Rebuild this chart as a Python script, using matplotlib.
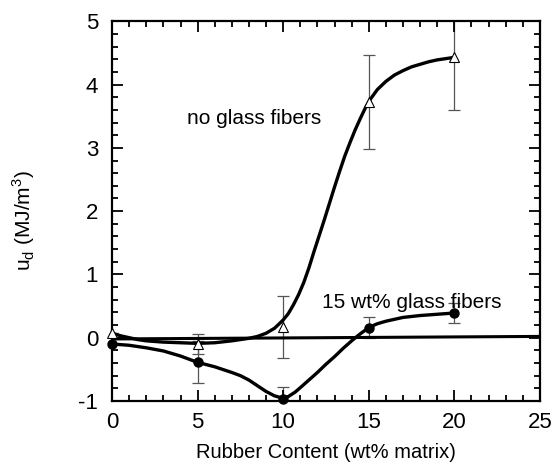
#!/usr/bin/env python3
import matplotlib as mpl
import matplotlib.pyplot as plt
from matplotlib.ticker import MultipleLocator

plt.rcParams['font.family'] = ['Liberation Sans', 'DejaVu Sans']
plt.rcParams['font.size'] = 13
plt.rcParams['mathtext.fontset'] = 'custom'
plt.rcParams['mathtext.rm'] = 'Liberation Sans'
plt.rcParams['axes.unicode_minus'] = False

# measured points (rubber content in wt% of matrix, u_d in MJ/m^3)
rubber = [0, 5, 10, 15, 20]
ud_neat = [0.07, -0.10, 0.17, 3.72, 4.43]
err_neat = [0.0, 0.16, 0.49, 0.74, 0.83]
ud_glass = [-0.10, -0.39, -0.97, 0.16, 0.39]
err_glass = [0.0, 0.33, 0.19, 0.17, 0.16]

# smoothed trend lines through each data set
fit_neat_x = [0, 0.5, 1, 1.5, 2, 3, 4, 5, 6, 7, 7.5, 8, 8.5, 9, 9.5, 10,
              10.3, 10.6, 10.9, 11.2, 11.5, 11.8, 12.1, 12.4, 12.7, 13.0,
              13.3, 13.6, 13.9, 14.2, 14.5, 14.8, 15.1, 15.5, 16.0, 16.5,
              17.0, 17.5, 18.0, 18.5, 19.0, 19.5, 20.0]
fit_neat_y = [0.07, 0.03, 0.0, -0.03, -0.05, -0.07, -0.08, -0.09, -0.08,
              -0.05, -0.03, -0.01, 0.02, 0.07, 0.15, 0.28, 0.38, 0.52, 0.68,
              0.87, 1.10, 1.36, 1.61, 1.86, 2.12, 2.38, 2.63, 2.87, 3.08,
              3.28, 3.46, 3.63, 3.77, 3.92, 4.05, 4.15, 4.22, 4.28, 4.32,
              4.36, 4.39, 4.41, 4.43]
fit_glass_x = [0, 1, 2, 3, 4, 5, 6, 7, 7.5, 8, 8.5, 9, 9.5, 9.9, 10.3,
               10.7, 11.0, 11.5, 12.0, 12.5, 13.0, 13.5, 14.0, 14.5, 15.0,
               15.5, 16.0, 16.5, 17.0, 18.0, 19.0, 20.0]
fit_glass_y = [-0.10, -0.12, -0.16, -0.21, -0.29, -0.39, -0.46, -0.55,
               -0.60, -0.67, -0.76, -0.85, -0.92, -0.95, -0.93, -0.86,
               -0.79, -0.67, -0.55, -0.42, -0.30, -0.17, -0.05, 0.06, 0.16,
               0.22, 0.26, 0.29, 0.32, 0.35, 0.37, 0.39]

# reference line near zero
base_x = [0, 25]
base_y = [-0.02, 0.02]


def graph_ud(path):
    fig = plt.figure(figsize=(5.52, 4.63), dpi=100)
    ax = fig.add_axes([0.203, 0.134, 0.775, 0.820])

    ax.plot(base_x, base_y, color="black", linewidth=2.2, zorder=2)
    ax.plot(fit_neat_x, fit_neat_y, color="black", linewidth=2.4,
            solid_capstyle="round", solid_joinstyle="round", zorder=3)
    ax.plot(fit_glass_x, fit_glass_y, color="black", linewidth=2.4,
            solid_capstyle="round", solid_joinstyle="round", zorder=3)

    ax.errorbar(rubber, ud_neat, yerr=err_neat, fmt="none", ecolor="#555555",
                elinewidth=0.9, capsize=4, capthick=0.9, zorder=1)
    ax.errorbar(rubber, ud_glass, yerr=err_glass, fmt="none", ecolor="#555555",
                elinewidth=0.9, capsize=4, capthick=0.9, zorder=1)

    ax.plot(rubber, ud_neat, linestyle="none", marker="^", markersize=6.5,
            markerfacecolor="white", markeredgecolor="black",
            markeredgewidth=0.8, clip_on=False, zorder=4)
    ax.plot(rubber, ud_glass, linestyle="none", marker="o", markersize=6.5,
            color="black", clip_on=False, zorder=4)

    ax.text(4.4, 3.46, "no glass fibers", fontsize=15, va="center", ha="left")
    ax.text(12.25, 0.55, "15 wt% glass fibers", fontsize=15, va="center",
            ha="left")

    ax.set_xlim(0, 25)
    ax.set_ylim(-1, 5)
    ax.xaxis.set_major_locator(MultipleLocator(5))
    ax.xaxis.set_minor_locator(MultipleLocator(1))
    ax.yaxis.set_major_locator(MultipleLocator(1))
    ax.yaxis.set_minor_locator(MultipleLocator(0.2))
    ax.tick_params(which="both", direction="in", top=True, right=True,
                   width=1.3, labelsize=16)
    ax.tick_params(which="major", length=8)
    ax.tick_params(axis="x", which="major", pad=8)
    ax.tick_params(axis="y", which="major", pad=10)
    ax.tick_params(which="minor", length=4.5)
    for spine in ax.spines.values():
        spine.set_linewidth(1.6)

    ax.set_xlabel("Rubber Content (wt% matrix)", fontsize=14.5, labelpad=7)
    ax.set_ylabel(r"u$_\mathregular{d}$ (MJ/m$^\mathregular{3}$)", fontsize=15)
    ax.yaxis.set_label_coords(-0.175, 0.474)

    fig.savefig(path, dpi=100)
    plt.close(fig)


def main():
    graph_ud("out.png")


if __name__ == "__main__":
    main()
